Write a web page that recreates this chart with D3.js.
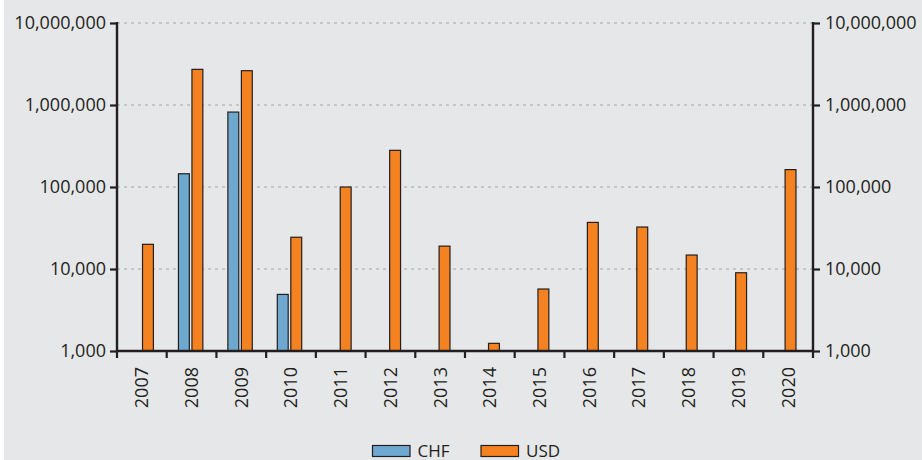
<!DOCTYPE html>
<html>
<head>
<meta charset="utf-8">
<script src="https://cdn.jsdelivr.net/npm/d3@7/dist/d3.min.js"></script>
<style>
  html, body { margin: 0; padding: 0; background: #ffffff; }
  svg { display: block; }
  text { font-family: "Open Sans", sans-serif; fill: #231f20; }
</style>
</head>
<body>
<svg id="chart" width="922" height="460"></svg>
<script>
const years = ["2007","2008","2009","2010","2011","2012","2013","2014","2015","2016","2017","2018","2019","2020"];
const seriesNames = ["CHF", "USD"];
const chfValues = [null, 145000, 820000, 4900, null, null, null, null, null, null, null, null, null, null];
const usdValues = [20000, 2720000, 2620000, 24400, 100000, 280000, 19000, 1240, 5700, 37000, 32500, 14800, 9000, 163000];
const tickValues = [1000, 10000, 100000, 1000000, 10000000];
const colors = { CHF: "#6fa8cf", USD: "#f58220" };

(function () {
const svg = d3.select("#chart");
const W = 922, H = 460;
const mLeft = 117, mRight = 813, mTop = 23, mBottom = 351;

svg.append("rect").attr("x", 4).attr("y", 0).attr("width", W - 4).attr("height", H).attr("fill", "#e6e7e9");

const x = d3.scaleBand().domain(years).range([mLeft, mRight]).padding(0);
const xBars = d3.scaleBand().domain(years).range([mLeft, mRight - 4]).padding(0);
const xSub = d3.scaleBand().domain(seriesNames).range([-12.7, 12.7]).paddingInner(0.12);
const y = d3.scaleLog().domain([1000, 10000000]).range([mBottom, mTop]);

const fmt = d3.format(",");

// gridlines
svg.append("g").selectAll("line").data(tickValues.slice(1)).join("line")
  .attr("x1", mLeft).attr("x2", mRight)
  .attr("y1", d => y(d)).attr("y2", d => y(d))
  .attr("stroke", "#a3a4a6").attr("stroke-width", 1).attr("stroke-dasharray", "3,4");

// bars
const data = [];
years.forEach((yr, i) => {
  if (chfValues[i] != null) data.push({ year: yr, key: "CHF", value: chfValues[i] });
  if (usdValues[i] != null) data.push({ year: yr, key: "USD", value: usdValues[i] });
});
svg.append("g").selectAll("rect").data(data).join("rect")
  .attr("x", d => xBars(d.year) + xBars.bandwidth() / 2 + xSub(d.key))
  .attr("width", xSub.bandwidth() - 1)
  .attr("y", d => y(d.value))
  .attr("height", d => mBottom - y(d.value))
  .attr("fill", d => colors[d.key])
  .attr("stroke", "#231f20").attr("stroke-width", 1.2);

// y axes
const yAxisL = d3.axisLeft(y).tickValues(tickValues).tickFormat(fmt).tickSize(7).tickPadding(4);
const gL = svg.append("g").attr("transform", `translate(${mLeft},0)`).call(yAxisL);
const yAxisR = d3.axisRight(y).tickValues(tickValues).tickFormat(fmt).tickSize(7).tickPadding(5);
const gR = svg.append("g").attr("transform", `translate(${mRight},0)`).call(yAxisR);
[gL, gR].forEach(g => {
  g.select(".domain").remove();
  g.selectAll(".tick line").attr("stroke", "#231f20").attr("stroke-width", 2.2);
  g.selectAll(".tick text").attr("font-size", 18).attr("font-family", "Open Sans, sans-serif").attr("fill", "#231f20");
});
svg.append("line").attr("x1", mLeft).attr("x2", mLeft).attr("y1", mTop - 1).attr("y2", mBottom + 1)
  .attr("stroke", "#231f20").attr("stroke-width", 2.4);
svg.append("line").attr("x1", mRight).attr("x2", mRight).attr("y1", mTop - 1).attr("y2", mBottom + 1)
  .attr("stroke", "#231f20").attr("stroke-width", 2.4);

// x axis
const xAxis = d3.axisBottom(x).tickSize(0).tickPadding(0);
const gX = svg.append("g").attr("transform", `translate(0,${mBottom})`).call(xAxis);
gX.select(".domain").remove();
gX.selectAll(".tick text")
  .attr("font-size", 18).attr("font-family", "Open Sans, sans-serif").attr("fill", "#231f20")
  .attr("transform", "rotate(-90)")
  .attr("text-anchor", "end")
  .attr("x", -16).attr("y", 0).attr("dy", "0.36em");
svg.append("line").attr("x1", mLeft - 1).attr("x2", mRight + 1).attr("y1", mBottom).attr("y2", mBottom)
  .attr("stroke", "#231f20").attr("stroke-width", 2.4);
const boundaries = [mLeft].concat(years.map(yr => x(yr)).slice(1)).concat([mRight]);
svg.append("g").selectAll("line").data(boundaries).join("line")
  .attr("x1", d => d).attr("x2", d => d).attr("y1", mBottom).attr("y2", mBottom + 7)
  .attr("stroke", "#231f20").attr("stroke-width", 2.2);

// legend
const legendItems = [
  { key: "CHF", x: 372.5 },
  { key: "USD", x: 481 }
];
const lg = svg.append("g");
legendItems.forEach(it => {
  lg.append("rect").attr("x", it.x).attr("y", 445.5).attr("width", 37.5).attr("height", 11)
    .attr("fill", colors[it.key]).attr("stroke", "#231f20").attr("stroke-width", 1.2);
  lg.append("text").attr("x", it.x + 45).attr("y", 456.5).attr("font-size", 17).text(it.key);
});
})();
</script>
</body>
</html>
